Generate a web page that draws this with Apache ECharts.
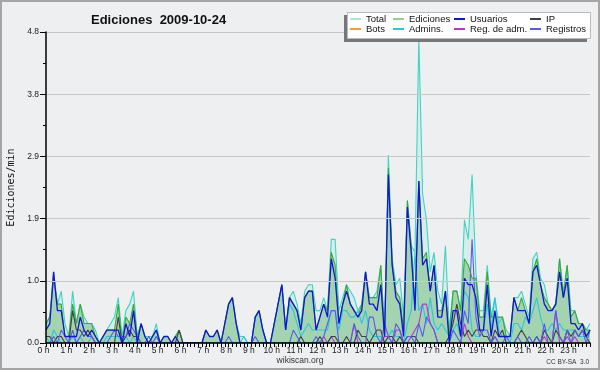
<!DOCTYPE html>
<html><head><meta charset="utf-8">
<script src="https://cdn.jsdelivr.net/npm/echarts@6/dist/echarts.min.js"></script>
<style>html,body{margin:0;padding:0;background:#eeeff1}#c{width:600px;height:370px}</style>
</head><body><div id="c"></div>
<script>
const hourLabels = ['0 h','1 h','2 h','3 h','4 h','5 h','6 h','7 h','8 h','9 h','10 h','11 h','12 h','13 h','14 h','15 h','16 h','17 h','18 h','19 h','20 h','21 h','22 h','23 h'];
const minuteSteps = ['00','10','20','30','40','50'];
const categories = [];
hourLabels.forEach((h, hi) => minuteSteps.forEach(m => categories.push(hi + ':' + m)));

const total = [
0.3,0.4,1.1,0.6,0.8,0.3,
0.1,0.8,0.3,0.6,0.4,0.3,
0.3,0.2,0.0,0.1,0.2,0.3,
0.4,0.7,0.1,0.5,0.6,0.8,
0.1,0.3,0.1,0.1,0.1,0.3,
0.0,0.1,0.1,0.0,0.1,0.2,
0,0,0,0,0,0,
0.2,0.1,0.1,0.2,0.0,0.3,
0.6,0.7,0.3,0.1,0.1,0.0,
0.0,0.4,0.5,0.2,0.0,0.0,
0.3,0.6,0.9,0.2,0.7,0.8,
0.6,0.3,0.8,0.9,0.9,0.5,
0.5,0.7,0.5,1.6,1.6,0.5,
0.7,0.9,0.8,0.7,0.5,0.6,
1.1,0.7,0.7,0.8,1.2,0.2,
2.9,1.3,0.9,1.0,0.4,2.2,
1.5,1.4,4.7,2.3,1.9,1.1,
1.4,0.8,0.6,1.5,0.2,0.8,
0.8,0.5,1.9,1.6,2.6,1.1,
0.5,0.5,1.2,0.4,0.7,0.3,
0.4,0.2,0.1,0.7,0.7,0.8,
0.6,0.4,1.3,1.4,1.0,0.9,
0.6,0.5,0.6,1.3,0.8,1.2,
0.5,0.5,0.3,0.3,0.2,0.3];

const ediciones = [
0.3,0.4,1.0,0.6,0.6,0.1,
0.1,0.6,0.3,0.6,0.3,0.3,
0.3,0.1,0.0,0.1,0.2,0.2,
0.2,0.6,0.0,0.4,0.3,0.6,
0.1,0.3,0.1,0.0,0.1,0.2,
0.0,0.1,0.1,0.0,0.1,0.2,
0,0,0,0,0,0,
0.2,0.1,0.1,0.2,0.0,0.3,
0.6,0.7,0.3,0.0,0.0,0.0,
0.0,0.4,0.5,0.2,0.0,0.0,
0.3,0.6,0.9,0.2,0.7,0.6,
0.5,0.2,0.7,0.8,0.8,0.2,
0.4,0.6,0.5,1.4,1.2,0.3,
0.6,0.9,0.6,0.5,0.4,0.6,
1.1,0.7,0.7,0.7,1.2,0.1,
2.7,1.2,0.8,0.7,0.2,2.2,
1.5,0.6,2.5,1.3,1.4,0.8,
1.2,0.5,0.5,0.8,0.1,0.8,
0.8,0.5,1.3,1.2,1.0,1.0,
0.4,0.4,1.1,0.4,0.4,0.4,
0.4,0.1,0.1,0.7,0.5,0.7,
0.5,0.3,1.1,1.3,0.9,0.7,
0.6,0.5,0.6,1.3,0.7,1.2,
0.4,0.5,0.3,0.3,0.2,0.2];

const usuarios = [
0.2,0.3,1.1,0.5,0.5,0.1,
0.1,0.1,0.1,0.4,0.2,0.1,
0.2,0.1,0.0,0.1,0.2,0.2,
0.2,0.2,0.0,0.3,0.1,0.5,
0.0,0.3,0.1,0.0,0.1,0.2,
0.0,0.1,0.1,0.0,0.1,0.0,
0,0,0,0,0,0,
0.2,0.1,0.1,0.2,0.0,0.3,
0.6,0.7,0.3,0.0,0.0,0.0,
0.0,0.4,0.5,0.2,0.0,0.0,
0.3,0.6,0.9,0.2,0.7,0.6,
0.5,0.2,0.7,0.8,0.8,0.2,
0.4,0.6,0.4,1.3,1.0,0.3,
0.6,0.8,0.6,0.5,0.4,0.5,
1.1,0.6,0.6,0.5,0.9,0.1,
2.6,1.2,0.7,0.6,0.1,2.1,
1.4,0.5,2.5,1.2,1.3,0.8,
1.2,0.4,0.4,0.8,0.0,0.5,
0.5,0.1,1.0,0.9,0.9,0.7,
0.2,0.2,0.9,0.1,0.5,0.1,
0.1,0.1,0.1,0.7,0.5,0.5,
0.5,0.3,1.1,1.2,0.9,0.6,
0.5,0.5,0.6,1.1,0.7,1.0,
0.3,0.3,0.2,0.3,0.1,0.2];

const ip = [
0.1,0.1,0,0.1,0.1,0,
0,0.5,0.2,0.2,0.1,0.2,
0.1,0,0,0,0,0,
0,0.4,0,0.1,0.2,0.1,
0.1,0,0,0,0,0,
0,0,0,0,0,0.2,
0,0,0,0,0,0,
0,0,0,0,0,0,
0,0,0,0,0,0,
0,0,0,0,0,0,
0,0,0,0,0,0,
0,0.1,0,0,0,0,
0.1,0,0,0.1,0.1,0,
0,0.1,0,0,0.2,0.1,
0.1,0,0.1,0.2,0.2,0,
0.1,0.1,0,0.1,0,0.1,
0.1,0.1,0,0,0,0,
0,0,0,0,0.1,0.3,
0.6,0.3,0.1,0.2,0.1,0.2,
0.2,0.1,0.1,0,0.2,0.1,
0.2,0,0,0,0.1,0.2,
0.1,0,0,0.1,0,0.2,
0.1,0,0.2,0.1,0,0.2,
0.1,0.2,0.1,0.2,0.1,0];

const bots = [
0,0,0,0,0,0, 0,0,0,0,0,0, 0,0,0,0,0,0, 0,0,0,0,0,0,
0,0,0,0,0,0, 0,0,0,0,0,0, 0,0,0,0,0,0, 0,0,0,0,0,0,
0,0,0,0,0,0, 0,0,0,0,0,0, 0,0,0,0,0,0, 0,0,0,0,0,0,
0,0,0,0,0,0, 0,0,0,0,0,0, 0,0,0,0,0,0, 0,0,0,0,0,0,
0,0,0,0,0,0, 0,0,0,0,0,0, 0,0,0,0,0,0, 0,0,0,0,0,0,
0,0,0,0,0,0, 0,0,0,0,0,0, 0,0,0,0,0,0, 0,0,0,0,0,0];

const admins = [
0.1,0,0.2,0.1,0,0,
0,0.1,0,0.1,0,0,
0.1,0,0,0,0.1,0.1,
0.1,0.1,0,0.1,0,0.1,
0,0,0,0,0,0.1,
0,0,0,0,0,0,
0,0,0,0,0,0,
0,0,0,0,0,0,
0,0,0,0,0.1,0,
0,0.4,0.5,0.2,0,0,
0.3,0.6,0.9,0.2,0.6,0.5,
0.3,0.1,0.2,0.3,0.2,0.2,
0.2,0.2,0.2,0.5,0.5,0.2,
0.5,0.5,0.4,0.4,0.5,0.3,
0.5,0.2,0.1,0.1,0.1,0,
0.1,0.2,0.1,0.1,0,0.3,
0.5,1.4,0.5,0.6,0.3,0.7,
0.3,0.2,0.3,0.2,0.1,0.2,
0.3,0.1,0.8,0.7,0.2,0.1,
0.1,0.2,0.6,0.2,0.7,0.2,
0.1,0.1,0,0.3,0.3,0.2,
0.4,0.3,0.5,0.7,0.4,0.2,
0.2,0.3,0.2,0.3,0.2,0.2,
0.2,0.2,0.1,0.1,0.1,0.2];

const regAdm = [
0,0,0,0,0,0, 0,0,0,0,0,0, 0,0,0,0,0,0, 0,0,0,0,0,0,
0,0,0,0,0,0, 0,0,0,0,0,0, 0,0,0,0,0,0, 0,0,0,0,0,0,
0,0,0,0,0,0, 0,0,0,0,0,0, 0,0,0,0,0,0, 0,0,0,0,0,0,
0,0.1,0,0.1,0,0,
0,0,0,0.3,0,0,
0,0,0,0,0,0.1,
0.1,0,0.2,0.2,0,0,
0.1,0.2,0.3,0.6,0.6,0.3,
0.2,0,0,0,0,0,
0,0,0.3,0.1,0,0,
0,0,0,0,0.1,0,
0,0,0,0,0,0,
0,0,0,0,0,0.1,
0,0,0.5,0,0,0.1,
0,0.1,0,0,0,0];

const registros = [
0,0,0.1,0,0.2,0.1,
0,0.2,0,0.1,0.2,0.1,
0.1,0,0,0,0,0.1,
0.2,0.1,0.1,0.1,0.3,0.2,
0.1,0,0,0.1,0,0.1,
0,0,0,0,0,0,
0,0,0,0,0,0,
0,0,0,0,0,0,
0.1,0,0,0,0,0,
0,0.1,0,0,0,0,
0,0,0,0,0,0.2,
0.1,0,0,0,0,0.1,
0,0.1,0.3,0.5,0.5,0,
0,0,0,0.3,0.1,0,
0,0.4,0.4,0.1,0,0.3,
0.1,0,0.3,0.2,0,0.1,
0.1,0,0.3,0.1,0.4,0.3,
0.2,0,0,0,0,0.2,
0.1,0,0.5,0.3,1.6,0.4,
0.1,0.2,0.2,0,0.1,0,
0,0.1,0,0,0.1,0,
0,0.1,0,0.1,0,0.3,
0,0,0.5,0.1,0,0.2,
0,0.2,0.1,0.2,0,0.2];

const chart = echarts.init(document.getElementById('c'), null, {renderer: 'canvas'});
const FONT = 'Liberation Sans';
function lineSeries(name, data, color, extra) {
  return Object.assign({
    name: name, type: 'line', data: data, symbol: 'none', smooth: false,
    lineStyle: {color: color, width: 1.1}, itemStyle: {color: color},
    emphasis: {disabled: true}
  }, extra || {});
}
const legendBase = {
  orient: 'vertical', itemGap: 0, itemWidth: 11, itemHeight: 2, icon: 'rect',
  padding: 0, top: 14, z: 30, selectedMode: false,
  textStyle: {fontFamily: FONT, fontSize: 9.5, lineHeight: 10, color: '#111'}
};
chart.setOption({
  animation: false,
  backgroundColor: '#eeeff1',
  textStyle: {fontFamily: FONT},
  title: {
    text: 'Ediciones  2009-10-24', left: 86, top: 9,
    textStyle: {fontFamily: FONT, fontSize: 13, fontWeight: 'bold', color: '#111'}
  },
  legend: [
    Object.assign({}, legendBase, {data: [{name: 'Total', itemStyle: {color: '#a6e6e0'}}, 'Bots'], left: 350}),
    Object.assign({}, legendBase, {data: [{name: 'Ediciones', itemStyle: {color: '#8ed48e'}}, 'Admins.'], left: 393}),
    Object.assign({}, legendBase, {data: ['Usuarios', 'Reg. de adm.'], left: 454}),
    Object.assign({}, legendBase, {data: ['IP', 'Registros'], left: 530})
  ],
  grid: {left: 46, right: 10, top: 32, bottom: 27, containLabel: false, outerBoundsMode: 'none'},
  xAxis: {
    type: 'category', boundaryGap: false, data: categories, z: 5,
    axisLine: {lineStyle: {color: '#000', width: 1.5}},
    axisTick: {interval: 0, length: 4, lineStyle: {color: '#000'}},
    axisLabel: {interval: 5, formatter: (v, i) => hourLabels[i / 6] || '', fontSize: 8.5, color: '#222', margin: 3, padding: [0, 5, 0, 0]},
    splitLine: {show: false}
  },
  yAxis: {
    type: 'value', min: 0, max: 4.8, interval: 0.96, z: 5,
    name: 'Ediciones/min', nameLocation: 'middle', nameGap: 30,
    nameTextStyle: {fontFamily: 'DejaVu Sans Mono', fontSize: 10, color: '#111'},
    axisLine: {show: true, lineStyle: {color: '#000', width: 1.5}},
    axisTick: {show: true, length: 6, lineStyle: {color: '#000'}},
    minorTick: {show: true, splitNumber: 2, length: 3, lineStyle: {color: '#000'}},
    axisLabel: {formatter: v => v.toFixed(1), fontSize: 8.5, color: '#222', margin: 7},
    splitLine: {lineStyle: {color: '#c8c8c8', width: 1}}
  },
  series: [
    lineSeries('Total', total, '#3fd4c4', {areaStyle: {color: 'rgba(150,228,212,0.35)'}}),
    lineSeries('Ediciones', ediciones, '#3aa83a', {areaStyle: {color: 'rgba(50,160,50,0.45)'}}),
    lineSeries('Bots', bots, '#ff9933'),
    lineSeries('Admins.', admins, '#2cc6dc'),
    lineSeries('Reg. de adm.', regAdm, '#c030d0'),
    lineSeries('IP', ip, '#404040'),
    lineSeries('Registros', registros, '#5a5af0'),
    lineSeries('Usuarios', usuarios, '#1414d2', {lineStyle: {color: '#1414d2', width: 1.3}})
  ],
  graphic: [
    {type: 'rect', z: 18, silent: true, shape: {x: 344, y: 15, width: 243, height: 27}, style: {fill: '#777'}},
    {type: 'rect', z: 19, silent: true, shape: {x: 347.5, y: 12.5, width: 243, height: 26}, style: {fill: '#fff', stroke: '#bbb', lineWidth: 1}},
    {type: 'text', z: 19, silent: true, x: 300, y: 361, style: {text: 'wikiscan.org', font: '8.5px "Liberation Sans"', fill: '#333', align: 'center', verticalAlign: 'middle'}},
    {type: 'text', z: 19, silent: true, x: 589, y: 362, style: {text: 'CC BY-SA  3.0', font: '6.5px "Liberation Sans"', fill: '#333', align: 'right', verticalAlign: 'middle'}},
    {type: 'rect', z: 40, silent: true, shape: {x: 1, y: 1, width: 598, height: 368}, style: {fill: 'none', stroke: '#a5a5a5', lineWidth: 2}}
  ]
});
</script></body></html>
